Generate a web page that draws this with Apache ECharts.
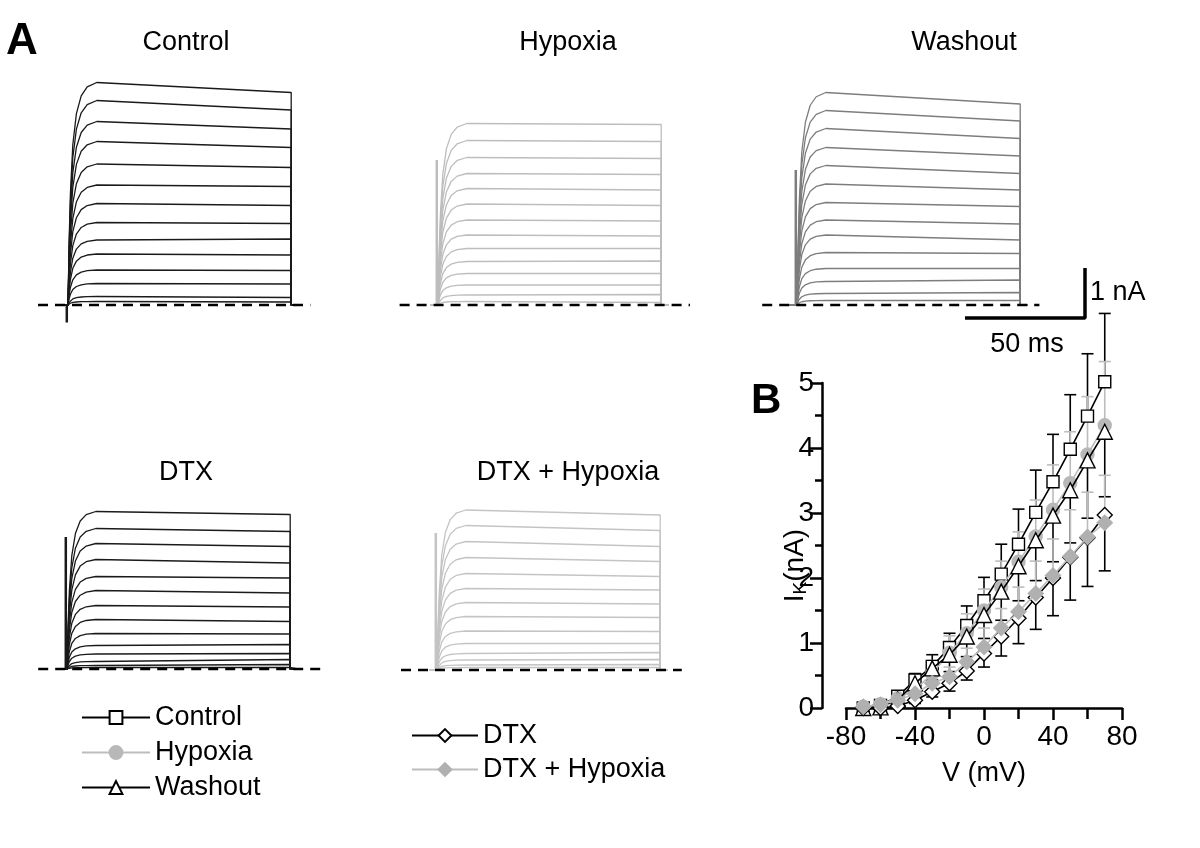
<!DOCTYPE html>
<html>
<head>
<meta charset="utf-8">
<script src="https://cdn.jsdelivr.net/npm/echarts@6/dist/echarts.min.js"></script>
<style>
  html, body { margin: 0; padding: 0; background: #fff; }
  #chart { width: 1200px; height: 848px; }
</style>
</head>
<body>
<div id="chart"></div>
<script>
// ---- panel B: I-V data ----
const voltages = [-70, -60, -50, -40, -30, -20, -10, 0, 10, 20, 30, 40, 50, 60, 70];
const ivControl = [0.00, 0.04, 0.18, 0.43, 0.64, 0.93, 1.27, 1.65, 2.06, 2.52, 3.01, 3.48, 3.98, 4.49, 5.02];
const ivHypoxia = [0.02, 0.06, 0.15, 0.28, 0.53, 0.85, 1.15, 1.50, 1.86, 2.25, 2.64, 3.05, 3.46, 3.90, 4.35];
const ivWashout = [0.00, 0.01, 0.13, 0.38, 0.61, 0.82, 1.10, 1.43, 1.79, 2.18, 2.58, 2.96, 3.35, 3.81, 4.25];
const ivDTX = [0.00, 0.00, 0.03, 0.12, 0.25, 0.38, 0.57, 0.84, 1.10, 1.38, 1.70, 2.00, 2.32, 2.62, 2.97];
const ivDTXHyp = [0.02, 0.05, 0.12, 0.22, 0.38, 0.48, 0.71, 0.94, 1.23, 1.48, 1.76, 2.04, 2.33, 2.63, 2.85];

const errControl = [0.01, 0.02, 0.06, 0.10, 0.18, 0.22, 0.30, 0.36, 0.46, 0.54, 0.65, 0.73, 0.84, 0.96, 1.05];
const errHypoxia = [0.02, 0.03, 0.06, 0.12, 0.20, 0.26, 0.30, 0.33, 0.40, 0.46, 0.56, 0.69, 0.79, 0.89, 0.98];
const errWashout = [0.01, 0.02, 0.05, 0.10, 0.18, 0.26, 0.31, 0.36, 0.44, 0.53, 0.62, 0.71, 0.81, 0.89, 1.00];
const errDTX = [0.01, 0.01, 0.03, 0.05, 0.08, 0.12, 0.14, 0.21, 0.30, 0.39, 0.49, 0.58, 0.66, 0.75, 0.86];
const errDTXHyp = [0.01, 0.02, 0.04, 0.06, 0.10, 0.15, 0.21, 0.29, 0.30, 0.38, 0.50, 0.56, 0.72, 0.69, 0.73];

// ---- panel A: sweep levels (nA) at start / end of the step ----
const ctrlStart = [4.45, 4.09, 3.67, 3.27, 2.82, 2.40, 2.03, 1.65, 1.30, 1.02, 0.70, 0.43, 0.17, 0.07];
const ctrlEnd = [4.25, 3.90, 3.52, 3.15, 2.75, 2.37, 1.99, 1.63, 1.32, 1.00, 0.69, 0.42, 0.15, 0.06];
const hypStart = [3.63, 3.29, 2.95, 2.63, 2.33, 2.02, 1.70, 1.40, 1.13, 0.87, 0.63, 0.40, 0.20, 0.07];
const hypEnd = [3.61, 3.27, 2.93, 2.61, 2.30, 1.99, 1.68, 1.38, 1.13, 0.88, 0.63, 0.40, 0.21, 0.05];
const washStart = [4.25, 3.89, 3.53, 3.15, 2.79, 2.42, 2.05, 1.70, 1.40, 1.05, 0.73, 0.47, 0.23, 0.09];
const washEnd = [4.02, 3.68, 3.33, 2.98, 2.63, 2.30, 1.97, 1.62, 1.30, 1.03, 0.73, 0.50, 0.25, 0.09];
const dtxStart = [3.15, 2.81, 2.51, 2.19, 1.85, 1.57, 1.27, 0.99, 0.71, 0.47, 0.30, 0.15, 0.07, 0.03];
const dtxEnd = [3.09, 2.75, 2.45, 2.12, 1.82, 1.52, 1.24, 0.95, 0.70, 0.49, 0.31, 0.19, 0.09, 0.03];
const dtxhStart = [3.20, 2.89, 2.57, 2.25, 1.93, 1.63, 1.35, 1.07, 0.78, 0.53, 0.33, 0.20, 0.10, 0.05];
const dtxhEnd = [3.10, 2.79, 2.47, 2.17, 1.87, 1.60, 1.32, 1.05, 0.77, 0.53, 0.35, 0.21, 0.11, 0.05];

// activation time course (ms, fraction of plateau)
const riseT = [0, 0.5, 1, 2, 3.5, 5.5, 8, 12];
const riseFrac = [0, 0.3, 0.5, 0.72, 0.86, 0.94, 0.98, 1];
const stepOff = 93;            // ms
const preT = -3;
const postT = 96;
// capacitive spike at step onset (nA)
const spikes = [-0.35, 2.9, 2.7, 2.64, 2.74];
// dashed zero lines (ms)
const dashStart = [-12.5, -16, -14.5, -12, -15];
const dashEnd = [101, 105, 101, 106, 102];
// scale bar, drawn in the washout panel: 50 ms / 1 nA
const scaleT = [70, 120, 120];
const scaleI = [-0.26, -0.26, 0.74];

const FONT = 'Liberation Sans, Arial, sans-serif';
const chart = echarts.init(document.getElementById('chart'));

const panels = [
  { start: ctrlStart, end: ctrlEnd, color: '#1a1a1a', left: 20, top: 55 },
  { start: hypStart, end: hypEnd, color: '#bdbdbd', left: 390, top: 55 },
  { start: washStart, end: washEnd, color: '#7d7d7d', left: 749, top: 55 },
  { start: dtxStart, end: dtxEnd, color: '#1a1a1a', left: 19, top: 419 },
  { start: dtxhStart, end: dtxhEnd, color: '#c4c4c4', left: 389, top: 420 }
];

const grids = [], xAxes = [], yAxes = [], series = [];

panels.forEach((p, k) => {
  grids.push({ left: p.left, top: p.top, width: 360, height: 300 });
  xAxes.push({ gridIndex: k, type: 'value', min: -20, max: 130, show: false });
  yAxes.push({ gridIndex: k, type: 'value', min: -1, max: 5, show: false });
  p.start.forEach((s, i) => {
    const pts = [[preT, 0]];
    riseT.forEach((t, j) => pts.push([t, s * riseFrac[j]]));
    pts.push([stepOff, p.end[i]], [stepOff, 0], [postT, 0]);
    series.push({
      name: 'sweep' + k + '_' + i, type: 'line', xAxisIndex: k, yAxisIndex: k,
      data: pts, symbol: 'none', silent: true,
      lineStyle: { color: p.color, width: 1.3 }, z: 2
    });
  });
  series.push({
    name: 'spike' + k, type: 'line', xAxisIndex: k, yAxisIndex: k,
    data: [[-0.5, 0], [-0.5, spikes[k]]], symbol: 'none', silent: true,
    lineStyle: { color: p.color, width: 2.5 }, z: 2
  });
  series.push({
    name: 'zero' + k, type: 'line', xAxisIndex: k, yAxisIndex: k,
    data: [[dashStart[k], 0], [dashEnd[k], 0]], symbol: 'none', silent: true,
    lineStyle: { color: '#000', width: 2.5, type: [10, 7] }, z: 3
  });
});

series.push({
  name: 'scalebar', type: 'line', xAxisIndex: 2, yAxisIndex: 2,
  data: scaleT.map((t, i) => [t, scaleI[i]]), symbol: 'none', silent: true,
  lineStyle: { color: '#000', width: 3.5 }, z: 3
});

// ---- panel B grid ----
const B = 5;
grids.push({ left: 846, top: 383, width: 276, height: 325 });
xAxes.push({
  gridIndex: B, type: 'value', min: -80, max: 80, interval: 40,
  name: 'V (mV)', nameLocation: 'middle', nameGap: 52,
  nameTextStyle: { fontFamily: FONT, fontSize: 27, color: '#000' },
  axisLine: { onZero: false, lineStyle: { color: '#000', width: 2.5 } },
  axisTick: { show: true, length: 12, lineStyle: { color: '#000', width: 2.5 } },
  minorTick: { show: true, splitNumber: 2, length: 11, lineStyle: { color: '#000', width: 2.5 } },
  axisLabel: { fontFamily: FONT, fontSize: 28, color: '#000', margin: 15, showMinLabel: true, showMaxLabel: true },
  splitLine: { show: false }
});
yAxes.push({
  gridIndex: B, type: 'value', min: 0, max: 5, interval: 1, offset: 24,
  name: '{i|I}{k|K}{n|(nA)}', nameLocation: 'middle', nameGap: 12, nameRotate: 90,
  nameMoveOverlap: false,
  nameTextStyle: {
    fontFamily: FONT, color: '#000', padding: [0, 40, 0, 0],
    rich: {
      i: { fontFamily: FONT, fontSize: 28, color: '#000' },
      k: { fontFamily: FONT, fontSize: 19, color: '#000', verticalAlign: 'bottom', padding: [10, 0, 0, 0] },
      n: { fontFamily: FONT, fontSize: 28, color: '#000' }
    }
  },
  axisLine: { onZero: false, lineStyle: { color: '#000', width: 2.5 } },
  axisTick: { show: true, length: 12, lineStyle: { color: '#000', width: 2.5 } },
  minorTick: { show: true, splitNumber: 2, length: 7, lineStyle: { color: '#000', width: 2.5 } },
  axisLabel: { fontFamily: FONT, fontSize: 28, color: '#000', margin: 8 },
  splitLine: { show: false }
});

const ivSeries = [
  { name: 'Control', vals: ivControl, err: errControl, dir: 1, color: '#000', symbol: 'rect', size: 12, fill: '#fff' },
  { name: 'Hypoxia', vals: ivHypoxia, err: errHypoxia, dir: 1, color: '#bdbdbd', symbol: 'circle', size: 13, fill: '#b8b8b8' },
  { name: 'Washout', vals: ivWashout, err: errWashout, dir: -1, color: '#000', symbol: 'triangle', size: 15, fill: '#fff' },
  { name: 'DTX', vals: ivDTX, err: errDTX, dir: -1, color: '#000', symbol: 'diamond', size: 15, fill: '#fff' },
  { name: 'DTX + Hypoxia', vals: ivDTXHyp, err: errDTXHyp, dir: 1, color: '#bdbdbd', symbol: 'diamond', size: 15, fill: '#b0b0b0' }
];

function errBar(color) {
  return function (params, api) {
    const x = api.value(0), y = api.value(1), e = api.value(2), d = api.value(3);
    const p0 = api.coord([x, y]);
    const p1 = api.coord([x, y + d * e]);
    const style = { stroke: color, lineWidth: 1.6 };
    return {
      type: 'group',
      children: [
        { type: 'line', shape: { x1: p0[0], y1: p0[1], x2: p1[0], y2: p1[1] }, style: style },
        { type: 'line', shape: { x1: p1[0] - 6, y1: p1[1], x2: p1[0] + 6, y2: p1[1] }, style: style }
      ]
    };
  };
}

ivSeries.forEach((s, k) => {
  series.push({
    name: s.name + ' err', type: 'custom', xAxisIndex: B, yAxisIndex: B,
    renderItem: errBar(s.color), silent: true, z: 4 + k * 0.1,
    encode: { x: 0, y: 1 },
    data: voltages.map((v, i) => [v, s.vals[i], s.err[i], s.dir])
  });
});
ivSeries.forEach((s, k) => {
  series.push({
    name: s.name, type: 'line', xAxisIndex: B, yAxisIndex: B,
    data: voltages.map((v, i) => [v, s.vals[i]]),
    symbol: s.symbol, symbolSize: s.size, clip: false,
    lineStyle: { color: s.color, width: 1.6 },
    itemStyle: { color: s.fill, borderColor: s.color === '#000' ? '#000' : s.fill, borderWidth: 1.4 },
    z: 6 + k * 0.1
  });
});

const legendText = { fontFamily: FONT, fontSize: 27, color: '#000', lineHeight: 29 };

chart.setOption({
  animation: false,
  backgroundColor: '#fff',
  grid: grids,
  xAxis: xAxes,
  yAxis: yAxes,
  legend: [
    { data: ['Control', 'Hypoxia', 'Washout'], orient: 'vertical', left: 76, top: 698,
      itemWidth: 68, itemHeight: 16, itemGap: 6, textStyle: legendText, selectedMode: false },
    { data: ['DTX', 'DTX + Hypoxia'], orient: 'vertical', left: 406, top: 716,
      itemWidth: 66, itemHeight: 16, itemGap: 5, textStyle: legendText, selectedMode: false }
  ],
  graphic: [
    { type: 'text', x: 6, y: 20, style: { text: 'A', font: 'bold 44px ' + FONT, fill: '#000' } },
    { type: 'text', x: 751, y: 380, style: { text: 'B', font: 'bold 42px ' + FONT, fill: '#000' } },
    { type: 'text', x: 186, y: 43, style: { text: 'Control', font: '27px ' + FONT, fill: '#000', align: 'center', verticalAlign: 'middle' } },
    { type: 'text', x: 568, y: 43, style: { text: 'Hypoxia', font: '27px ' + FONT, fill: '#000', align: 'center', verticalAlign: 'middle' } },
    { type: 'text', x: 964, y: 43, style: { text: 'Washout', font: '27px ' + FONT, fill: '#000', align: 'center', verticalAlign: 'middle' } },
    { type: 'text', x: 186, y: 473, style: { text: 'DTX', font: '27px ' + FONT, fill: '#000', align: 'center', verticalAlign: 'middle' } },
    { type: 'text', x: 568, y: 473, style: { text: 'DTX + Hypoxia', font: '27px ' + FONT, fill: '#000', align: 'center', verticalAlign: 'middle' } },
    { type: 'text', x: 1090, y: 293, style: { text: '1 nA', font: '27px ' + FONT, fill: '#000', align: 'left', verticalAlign: 'middle' } },
    { type: 'text', x: 1027, y: 345, style: { text: '50 ms', font: '27px ' + FONT, fill: '#000', align: 'center', verticalAlign: 'middle' } }
  ],
  series: series
});
</script>
</body>
</html>
